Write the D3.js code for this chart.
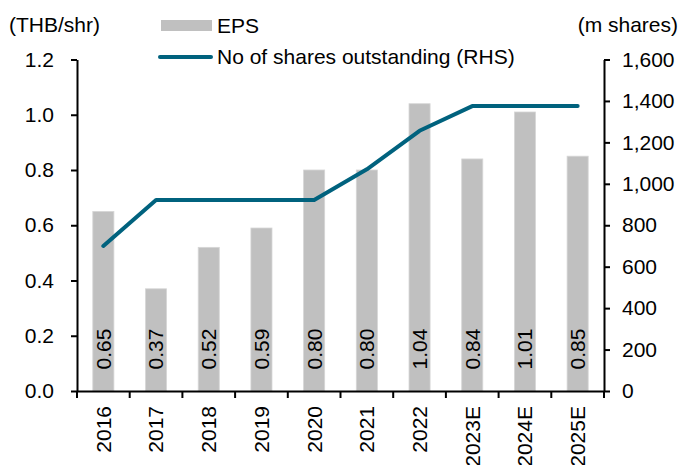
<!DOCTYPE html>
<html lang="en">
<head>
    <meta charset="UTF-8">
    <title>EPS and shares outstanding</title>
    <script src="https://d3js.org/d3.v7.min.js"></script>
    <style>
        body {
            margin: 0;
            background: #fff;
        }

        text {
            font-family: "Liberation Sans", Arial, sans-serif;
            font-size: 21px;
            fill: #000;
        }

        .axis path,
        .axis line {
            stroke: #000;
            stroke-width: 2px;
        }
    </style>
</head>
<body>
<script>
    //数据
    const years = ["2016", "2017", "2018", "2019", "2020", "2021", "2022", "2023E", "2024E", "2025E"];
    const eps = [0.65, 0.37, 0.52, 0.59, 0.80, 0.80, 1.04, 0.84, 1.01, 0.85];
    const shares = [700, 922, 922, 922, 922, 1070, 1256, 1375, 1375, 1375];
    const epsTicks = [0, 0.2, 0.4, 0.6, 0.8, 1.0, 1.2];
    const shareTicks = [0, 200, 400, 600, 800, 1000, 1200, 1400, 1600];

    //基本信息
    const width = 681;
    const height = 465;
    const plotLeft = 77, plotRight = 604, plotTop = 59.5, plotBottom = 391;
    const fontSize = "21px";
    const fontFamily = "Liberation Sans, Arial, sans-serif";

    const barColor = "#c0c0c0";
    const lineColor = "#00627e";

    draw();

    function draw() {
        const svg = d3.select("body").append("svg")
            .attr("width", width)
            .attr("height", height);

        const x = d3.scaleBand().domain(years).range([plotLeft, plotRight]);
        const yL = d3.scaleLinear().domain([0, 1.2]).range([plotBottom, plotTop]);
        const yR = d3.scaleLinear().domain([0, 1600]).range([plotBottom, plotTop]);

        //柱子
        const barW = x.bandwidth() * 0.4;
        svg.append("g").selectAll("rect")
            .data(years)
            .enter()
            .append("rect")
            .attr("x", d => x(d) + (x.bandwidth() - barW) / 2)
            .attr("width", barW)
            .attr("y", (d, i) => yL(eps[i]))
            .attr("height", (d, i) => plotBottom - yL(eps[i]))
            .attr("fill", barColor)
            .attr("stroke", "#d6d6d6")
            .attr("stroke-width", 0.8);

        //柱子上的数值
        svg.append("g").selectAll("text")
            .data(years)
            .enter()
            .append("text")
            .attr("transform", d => `translate(${x(d) + x.bandwidth() / 2},349) rotate(-90)`)
            .attr("text-anchor", "middle")
            .attr("dy", "0.35em")
            .text((d, i) => eps[i].toFixed(2));

        //折线
        const line = d3.line()
            .x((d, i) => x(years[i]) + x.bandwidth() / 2)
            .y(d => yR(d));

        svg.append("path")
            .datum(shares)
            .attr("d", line)
            .attr("fill", "none")
            .attr("stroke", lineColor)
            .attr("stroke-width", 4)
            .attr("stroke-linejoin", "round")
            .attr("stroke-linecap", "round");

        //左轴
        const axisL = svg.append("g")
            .attr("class", "axis")
            .attr("transform", `translate(${plotLeft},0)`)
            .call(d3.axisLeft(yL).tickValues(epsTicks).tickSize(6).tickSizeOuter(0).tickFormat(d3.format(".1f")));
        axisL.selectAll("text").attr("x", -23).style("font-size", fontSize).style("font-family", fontFamily);

        //右轴
        const axisR = svg.append("g")
            .attr("class", "axis")
            .attr("transform", `translate(${plotRight},0)`)
            .call(d3.axisRight(yR).tickValues(shareTicks).tickSize(6).tickSizeOuter(0).tickFormat(d3.format(",")));
        axisR.selectAll("text").attr("x", 18).style("font-size", fontSize).style("font-family", fontFamily);

        //X轴
        const axisX = svg.append("g")
            .attr("class", "axis")
            .attr("transform", `translate(0,${plotBottom})`)
            .call(d3.axisBottom(x).tickSize(0).tickSizeOuter(0));
        axisX.selectAll("text")
            .attr("transform", "rotate(-90)")
            .attr("text-anchor", "end")
            .attr("x", -15)
            .attr("y", 0)
            .attr("dy", "0.35em")
            .style("font-size", fontSize)
            .style("font-family", fontFamily);

        //X轴刻度（在分类边界）
        const bounds = years.map(d => x(d)).concat([plotRight]);
        axisX.append("g").selectAll("line")
            .data(bounds)
            .enter()
            .append("line")
            .attr("x1", d => d).attr("x2", d => d)
            .attr("y1", 0).attr("y2", 7);

        //轴标题
        svg.append("text").attr("x", 9).attr("y", 25).attr("dy", "0.35em").text("(THB/shr)");
        svg.append("text").attr("x", 678).attr("y", 25).attr("dy", "0.35em")
            .attr("text-anchor", "end").text("(m shares)");

        //图例
        const legend = svg.append("g");
        legend.append("rect")
            .attr("x", 161).attr("y", 20).attr("width", 51).attr("height", 11)
            .attr("fill", barColor);
        legend.append("text").attr("x", 217).attr("y", 25.5).attr("dy", "0.35em").text("EPS");
        legend.append("line")
            .attr("x1", 160).attr("x2", 211).attr("y1", 57).attr("y2", 57)
            .attr("stroke", lineColor).attr("stroke-width", 4).attr("stroke-linecap", "round");
        legend.append("text").attr("x", 217).attr("y", 57).attr("dy", "0.35em")
            .text("No of shares outstanding (RHS)");
    }
</script>
</body>
</html>
